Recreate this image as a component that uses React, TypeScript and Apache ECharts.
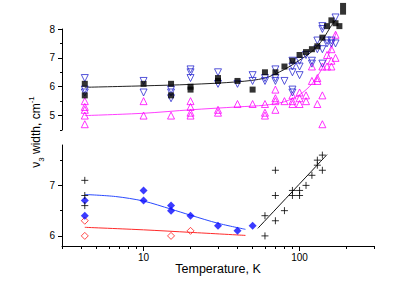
import React, { useEffect, useRef } from 'react';
import * as echarts from 'echarts';

// ---------- Top panel data (Temperature K, width cm-1) ----------
const topSquaresT = [4.2, 4.2, 10, 15, 15, 20, 20, 30, 30, 40, 50, 60, 70, 80, 90, 100, 110, 120, 130, 140, 150, 160, 170, 180, 190, 190];
const topSquaresV = [6.1, 5.7, 6.1, 6.1, 5.7, 6.0, 5.9, 6.3, 6.2, 6.2, 5.9, 6.5, 6.5, 6.7, 6.9, 7.1, 7.2, 7.3, 7.4, 7.7, 8.1, 8.3, 8.2, 8.1, 8.8, 8.6];

const topDownT = [4.2, 4.2, 4.2, 10, 10, 15, 15, 15, 20, 20, 20, 30, 30, 40, 50, 50, 60, 60, 70, 70, 70, 80, 90, 90, 90, 90, 90, 100, 100, 100, 110, 120, 120, 130, 130, 140, 140, 140, 140, 150, 150, 160, 160, 170, 170];
const topDownV = [6.3, 5.9, 5.8, 6.2, 5.8, 5.9, 5.8, 5.6, 6.6, 6.5, 6.3, 6.5, 6.1, 6.1, 6.4, 6.2, 6.3, 6.2, 6.6, 6.3, 6.2, 6.2, 6.9, 6.7, 6.5, 5.9, 5.8, 6.9, 6.7, 6.4, 7.1, 6.9, 6.8, 7.6, 7.3, 8.1, 8.0, 7.3, 6.8, 7.6, 7.5, 7.6, 7.5, 8.4, 7.5];

const topUpT = [4.2, 4.2, 4.2, 4.2, 4.2, 10, 10, 15, 20, 20, 20, 20, 30, 30, 40, 50, 60, 60, 60, 70, 70, 70, 70, 80, 90, 90, 90, 100, 100, 100, 110, 110, 120, 120, 130, 130, 130, 140, 140, 140, 150, 150, 160, 160, 160, 170, 170];
const topUpV = [5.5, 5.3, 5.2, 5.0, 4.7, 5.5, 5.0, 5.0, 5.5, 5.3, 5.1, 5.0, 5.2, 5.1, 5.4, 5.4, 5.4, 5.1, 5.0, 5.9, 5.6, 5.5, 5.2, 5.5, 5.7, 5.5, 5.4, 5.8, 5.6, 5.4, 5.7, 5.5, 6.7, 6.2, 6.3, 6.2, 5.4, 6.7, 5.7, 4.7, 7.1, 6.7, 7.3, 6.9, 6.7, 7.8, 7.0];

const topBlackFitT = [4.2, 10, 20, 40, 60, 80, 100, 120, 140, 160, 170];
const topBlackFitV = [5.98, 6.03, 6.08, 6.17, 6.3, 6.6, 6.92, 7.22, 7.62, 8.12, 8.3];
const topMagentaFitT = [4.2, 10, 20, 40, 60, 80, 100, 120, 140, 160, 172];
const topMagentaFitV = [5.0, 5.08, 5.2, 5.3, 5.36, 5.48, 5.72, 6.1, 6.65, 7.35, 7.9];

// ---------- Bottom panel data ----------
const blueDiamondT = [4.2, 4.2, 10, 10, 15, 15, 20, 30, 40, 50];
const blueDiamondV = [6.7, 6.4, 6.9, 6.7, 6.6, 6.5, 6.4, 6.2, 6.1, 6.2];
const redDiamondT = [4.2, 4.2, 15, 20];
const redDiamondV = [6.3, 6.0, 6.0, 6.1];
const crossT = [4.2, 4.2, 4.2, 60, 60, 70, 70, 70, 80, 90, 90, 100, 100, 110, 120, 130, 130, 140, 140];
const crossV = [7.1, 6.8, 6.6, 6.0, 6.4, 6.3, 6.8, 7.3, 6.5, 6.9, 6.8, 6.9, 6.8, 7.0, 7.2, 7.4, 7.5, 7.6, 7.3];

const blueFitT = [4.2, 6.6, 10, 15, 20, 30, 45];
const blueFitV = [6.82, 6.78, 6.69, 6.53, 6.41, 6.25, 6.13];
const redFitT = [4.2, 10, 20, 45];
const redFitV = [6.17, 6.12, 6.07, 6.01];
const blackFitT = [54, 150];
const blackFitV = [6.15, 7.61];

// ---------- Axes ----------
const xMin = 3;
const xMax = 300;
const xMajorTicks = [10, 100];
const xMinorTicks = [3, 4, 5, 6, 7, 8, 9, 20, 30, 40, 50, 60, 70, 80, 90, 200, 300];
const topYMajor = [5, 6, 7, 8];
const topYMinor = [4.5, 5.5, 6.5, 7.5];
const botYMajor = [6, 7];
const botYMinor = [6.5, 7.5];

const FONT = "'Liberation Sans', Arial, sans-serif";

const zip = (t: number[], v: number[]) => t.map((x, i) => [x, v[i]]);

export default function App() {
  const ref = useRef<HTMLDivElement>(null);
  useEffect(() => {
    document.body.style.margin = '0';
    const chart = echarts.init(ref.current!, null, { renderer: 'svg' });
    const lMin = Math.log10(xMin);
    const lMax = Math.log10(xMax);
    const hollow = (c: string) => ({ color: 'rgba(255,255,255,0)', borderColor: c, borderWidth: 1 });
    const scatter = (data: number[][], xi: number, yi: number, extra: any) => ({
      type: 'scatter', xAxisIndex: xi, yAxisIndex: yi, data, clip: false, ...extra,
    });
    const line = (data: number[][], xi: number, yi: number, color: string) => ({
      type: 'line', xAxisIndex: xi, yAxisIndex: yi, data, clip: false, symbol: 'none', showSymbol: false,
      smooth: 0.3, lineStyle: { color, width: 1 }, z: 1,
    });
    const yMajor = (grid: number, min: number, max: number, vals: number[]) => ({
      type: 'value', gridIndex: grid, position: 'left', min, max,
      axisLine: { show: true, onZero: false, lineStyle: { color: '#000', width: 1 } },
      axisTick: { show: true, customValues: vals, length: 4, lineStyle: { color: '#000' } },
      axisLabel: { show: true, customValues: vals, fontSize: 10, color: '#000', margin: 7, fontFamily: FONT },
      splitLine: { show: false },
    });
    const yMinor = (grid: number, min: number, max: number, vals: number[]) => ({
      type: 'value', gridIndex: grid, position: 'left', min, max,
      axisLine: { show: false },
      axisTick: { show: true, customValues: vals, length: 2, lineStyle: { color: '#000' } },
      axisLabel: { show: false },
      splitLine: { show: false },
    });
    chart.setOption({
      animation: false,
      backgroundColor: '#fff',
      grid: [
        { left: 62, top: 29, width: 312, height: 101 },
        { left: 62, top: 145, width: 312, height: 101 },
      ],
      xAxis: [
        { type: 'log', logBase: 10, gridIndex: 0, min: xMin, max: xMax, show: false },
        { type: 'log', logBase: 10, gridIndex: 1, min: xMin, max: xMax, show: false },
        {
          type: 'value', gridIndex: 1, position: 'bottom', min: lMin, max: lMax,
          axisLine: { show: true, onZero: false, lineStyle: { color: '#000', width: 1 } },
          axisTick: { show: true, customValues: xMajorTicks.map((v) => Math.log10(v)), length: 5, lineStyle: { color: '#000' } },
          axisLabel: {
            show: true, customValues: xMajorTicks.map((v) => Math.log10(v)),
            formatter: (v: number) => String(Math.round(Math.pow(10, v))),
            fontSize: 10, color: '#000', margin: 6, fontFamily: FONT,
          },
          splitLine: { show: false },
          name: 'Temperature, K', nameLocation: 'middle', nameGap: 15,
          nameTextStyle: { fontSize: 12.5, color: '#000', fontFamily: FONT },
        },
        {
          type: 'value', gridIndex: 1, position: 'bottom', min: lMin, max: lMax,
          axisLine: { show: false },
          axisTick: { show: true, customValues: xMinorTicks.map((v) => Math.log10(v)), length: 3, lineStyle: { color: '#000' } },
          axisLabel: { show: false },
          splitLine: { show: false },
        },
      ],
      yAxis: [
        yMajor(0, 4.5, 8, topYMajor),
        yMajor(1, 5.8, 7.8, botYMajor),
        yMinor(0, 4.5, 8, topYMinor),
        yMinor(1, 5.8, 7.8, botYMinor),
      ],
      graphic: [
        {
          type: 'text', x: 36, y: 132, rotation: Math.PI / 2,
          style: {
            text: '{n|ν}{s|3}{n| width, cm}{p|-1}',
            align: 'center', verticalAlign: 'middle', fill: '#000',
            font: `12px ${FONT}`,
            rich: {
              n: { fontSize: 12, lineHeight: 18, fontFamily: FONT, fill: '#000' },
              s: { fontSize: 8, lineHeight: 8, verticalAlign: 'bottom', fontFamily: FONT, fill: '#000' },
              p: { fontSize: 8, lineHeight: 8, verticalAlign: 'top', fontFamily: FONT, fill: '#000' },
            },
          },
        },
      ],
      series: [
        line(zip(topBlackFitT, topBlackFitV), 0, 0, '#222222'),
        line(zip(topMagentaFitT, topMagentaFitV), 0, 0, '#ff40ff'),
        scatter(zip(topUpT, topUpV), 0, 0, { symbol: 'triangle', symbolSize: 7, itemStyle: hollow('#ff00ff') }),
        scatter(zip(topDownT, topDownV), 0, 0, { symbol: 'triangle', symbolRotate: 180, symbolSize: 7, itemStyle: hollow('#2a2ad0') }),
        scatter(zip(topSquaresT, topSquaresV), 0, 0, { symbol: 'rect', symbolSize: 6, itemStyle: { color: '#000' } }),
        line(zip(blueFitT, blueFitV), 1, 1, '#2a4aff'),
        line(zip(redFitT, redFitV), 1, 1, '#ff2a2a'),
        line(zip(blackFitT, blackFitV), 1, 1, '#111111'),
        scatter(zip(redDiamondT, redDiamondV), 1, 1, { symbol: 'diamond', symbolSize: 7, itemStyle: hollow('#ff1a1a') }),
        scatter(zip(blueDiamondT, blueDiamondV), 1, 1, { symbol: 'diamond', symbolSize: 8, itemStyle: { color: '#0a0aff' } }),
        scatter(zip(crossT, crossV), 1, 1, {
          symbol: 'path://M5,0L5,10M0,5L10,5', symbolSize: 7,
          itemStyle: { color: 'rgba(0,0,0,0)', borderColor: '#000', borderWidth: 1 },
        }),
      ],
    });
    return () => chart.dispose();
  }, []);
  return <div ref={ref} style={{ position: 'absolute', left: 0, top: 0, width: 415, height: 289 }} />;
}
